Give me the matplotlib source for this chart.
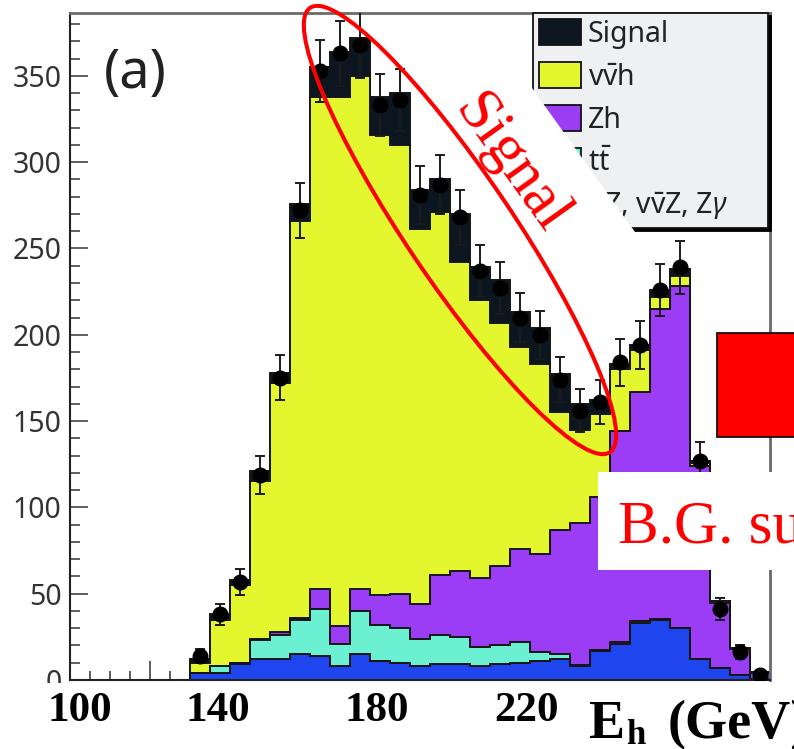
import numpy as np
import matplotlib
matplotlib.use("Agg")
import matplotlib.pyplot as plt
from matplotlib.patches import Patch, Ellipse, Rectangle, Polygon
from matplotlib.ticker import MultipleLocator

plt.rcParams["font.family"] = ["Noto Sans", "DejaVu Sans"]
plt.rcParams["mathtext.fontset"] = "custom"
plt.rcParams["mathtext.rm"] = "Noto Sans"
plt.rcParams["mathtext.it"] = "Noto Sans:italic"
plt.rcParams["mathtext.bf"] = "Noto Sans:bold"

# ---- binning (GeV) ----
e_low = 130.0
bin_width = 5.0
n_bins = 29

# ---- per-process contributions in each bin (events) ----
zz_bg = [4, 4, 9.5, 12, 12, 15, 14, 8, 15, 11, 10, 8, 9, 9, 8, 9, 10, 11, 12, 8,
         17, 21, 33, 35, 30, 12, 7, 3, 0.5]
ttbar = [0, 4, 0.5, 11, 14, 20, 27, 13, 25, 21, 20, 16, 17, 16, 11, 11, 12, 5, 3, 0.5,
         0.5, 1, 1, 0.5, 0, 0, 0, 0, 0]
zh = [0, 0, 0, 1, 2, 1, 12, 10, 13, 17, 20, 20, 35, 38, 40, 46, 54, 57, 72, 82.5,
      88.5, 122, 133, 179.5, 198, 112, 37.5, 15, 3.5]
nnh = [6, 27, 45, 91, 144, 230, 285, 307, 297, 267, 260, 217, 210, 179, 161, 141, 117,
       110, 68, 54, 48, 36, 24, 7, 6, 2, 1, 0.3, 0.3]
signal = [2, 3, 3, 6, 6, 10, 17, 26, 22, 22, 30, 23, 19, 28, 19, 25, 20, 21, 22, 15,
          8, 3, 3, 4, 4, 1, 0.5, 0.2, 0.2]

# ---- pseudo-data ----
data = [14, 38, 57, 119, 175, 272, 353, 363, 368, 333, 336, 281, 287, 268, 237, 227,
        210, 200, 174, 156, 161, 184, 194, 226, 239, 127, 41, 16, 3]
data_err = [4, 6, 7.5, 11, 13, 16, 18, 19, 19, 18, 18, 17, 17, 16, 15, 15, 14, 14, 13,
            12.5, 12.7, 13.5, 14, 15, 15.5, 11, 6.5, 4, 1.5]

# ---- legend / overlay text ----
legend_labels = ["Signal", r"v$\mathrm{\bar{v}}$h", "Zh", r"t$\mathrm{\bar{t}}$",
                 r"ZZ, v$\mathrm{\bar{v}}$Z, Z$\gamma$"]
axis_labels = ["100", "140", "180", "220"]

colors = {
    "signal": "#0c1621",
    "nnh": "#e3f62e",
    "zh": "#9b3df5",
    "tt": "#6cf0d2",
    "zz": "#1f46ee",
}

W, H = 794, 749
fig = plt.figure(figsize=(W / 100, H / 100), dpi=100)
ax = fig.add_axes([70 / W, 1 - 680 / H, 700 / W, 667 / H])

edges = e_low + bin_width * np.arange(n_bins + 1)
centers = 0.5 * (edges[:-1] + edges[1:])

layers = [np.array(zz_bg), np.array(ttbar), np.array(zh), np.array(nnh), np.array(signal)]
layer_colors = [colors["zz"], colors["tt"], colors["zh"], colors["nnh"], colors["signal"]]
cumulative = np.cumsum(layers, axis=0)

# stacked histograms: draw the full stack first, then each lower sum on top
for k in range(len(layers) - 1, -1, -1):
    ax.stairs(cumulative[k], edges, baseline=0, fill=True,
              facecolor=layer_colors[k], edgecolor="#151515", linewidth=1.4, zorder=2)

ax.errorbar(centers, data, yerr=data_err, fmt="o", ms=10.5, mfc="k", mec="k",
            ecolor="#1c1c1c", elinewidth=1.4, capsize=3.8, capthick=1.4, zorder=5)

ax.set_xlim(100, 275)
ax.set_ylim(0, 386.4)
ax.set_axisbelow(True)

ax.xaxis.set_major_locator(MultipleLocator(20))
ax.xaxis.set_minor_locator(MultipleLocator(5))
ax.yaxis.set_major_locator(MultipleLocator(50))
ax.yaxis.set_minor_locator(MultipleLocator(10))
ax.tick_params(axis="x", which="both", direction="in", labelbottom=False,
               top=False, color="#333333", width=1.1)
ax.tick_params(axis="x", which="major", length=14)
ax.tick_params(axis="x", which="minor", length=6.5)
ax.tick_params(axis="y", which="both", direction="in", right=False,
               color="#333333", width=1.1)
ax.tick_params(axis="y", which="major", length=13, pad=6, labelsize=20.5,
               labelcolor="#333333")
ax.tick_params(axis="y", which="minor", length=7)

for side in ("left", "bottom"):
    ax.spines[side].set_color("#222222")
    ax.spines[side].set_linewidth(1.5)
for side in ("top", "right"):
    ax.spines[side].set_color("#6a6a6a")
    ax.spines[side].set_linewidth(2.0)

handles = [Patch(facecolor=colors[key], edgecolor="#111111", linewidth=1.3)
           for key in ("signal", "nnh", "zh", "tt", "zz")]
leg = ax.legend(handles, legend_labels, loc="upper left",
                bbox_to_anchor=(533 / W, 1 - 222 / H, 235 / W, 209 / H),
                bbox_transform=fig.transFigure, mode="expand", borderaxespad=0,
                fancybox=False, shadow={"color": "k", "alpha": 1.0}, framealpha=1,
                facecolor="#eef0f2", edgecolor="#111111",
                prop={"family": "Noto Sans", "size": 20.5},
                handlelength=1.47, handleheight=1.05, handletextpad=0.25,
                labelspacing=0.46, borderpad=0.2)
leg.get_frame().set_linewidth(1.3)
for t in leg.get_texts():
    t.set_color("#222222")

# ---- annotation layer in pixel coordinates ----
ov = fig.add_axes([0, 0, 1, 1], zorder=10)
ov.set_xlim(0, W)
ov.set_ylim(H, 0)
ov.axis("off")
ov.patch.set_visible(False)

ov.add_patch(Rectangle((0, 683), W, H - 683, facecolor="white", edgecolor="none", zorder=1))

band = Polygon([(532, 88), (650, 253), (575, 307), (457, 142)], closed=True,
               facecolor="white", edgecolor="none", zorder=2)
ov.add_patch(band)

ov.add_patch(Rectangle((717, 333), 120, 104, facecolor="#ff0000", edgecolor="#111111",
                       linewidth=1.3, zorder=3))
ov.add_patch(Rectangle((598, 472), 220, 98, facecolor="white", edgecolor="none", zorder=3))

ov.add_patch(Ellipse((460, 230), width=536, height=106, angle=56, fill=False,
                     edgecolor="#ff0000", linewidth=2.9, zorder=4))

ov.text(511, 164, "Signal", rotation=-54.5, rotation_mode="anchor", ha="center",
        va="center", fontsize=44, family="Liberation Serif", color="#ff0000", zorder=6)
ov.text(618, 543, "B.G. suppression", ha="left", va="baseline", fontsize=44,
        family="Liberation Serif", color="#ff0000", zorder=6, clip_on=True)

ov.text(104, 88, "(a)", ha="left", va="baseline", fontsize=39, family="Noto Sans",
        color="#222222", zorder=6)

for lab, xc in zip(axis_labels, (80, 218, 377, 526)):
    ov.text(xc, 721, lab, ha="center", va="baseline", fontsize=31, fontweight="bold",
            family="Liberation Serif", color="black", zorder=6)

ov.text(588, 738, "E", ha="left", va="baseline", fontsize=39, fontweight="bold",
        family="Liberation Serif", color="black", zorder=6)
ov.text(626, 744, "h", ha="left", va="baseline", fontsize=25, fontweight="bold",
        family="Liberation Serif", color="black", zorder=6)
ov.text(668, 738, "(GeV)", ha="left", va="baseline", fontsize=39, fontweight="bold",
        family="Liberation Serif", color="black", zorder=6, clip_on=True)

fig.savefig("out.png", dpi=100)
